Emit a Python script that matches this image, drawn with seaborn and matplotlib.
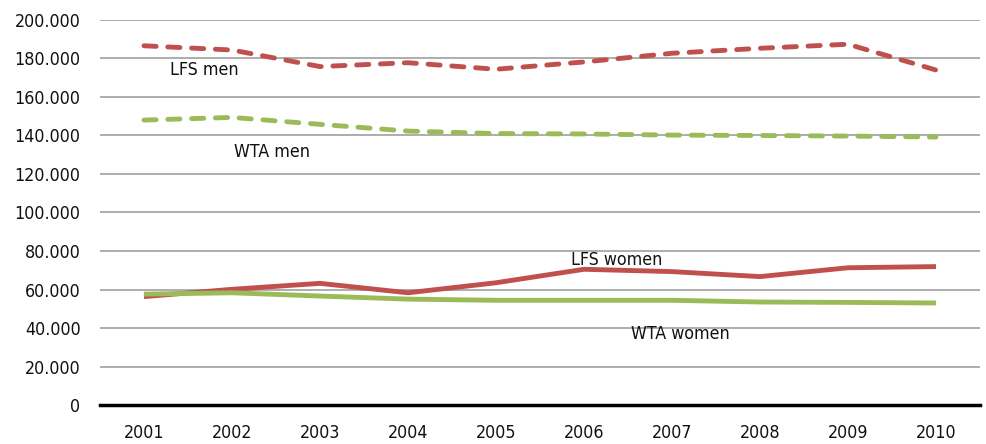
import numpy as np
import pandas as pd
import matplotlib.pyplot as plt
import seaborn as sns

# data
years = ["2001", "2002", "2003", "2004", "2005", "2006", "2007", "2008", "2009", "2010"]
lfs_men = [186600, 184400, 175800, 177800, 174400, 178200, 182700, 185300, 187400, 174000]
wta_men = [148000, 149400, 145800, 142300, 141000, 140800, 140200, 140000, 139700, 139200]
lfs_women = [56300, 60100, 63200, 58300, 63500, 70500, 69300, 66700, 71300, 71900]
wta_women = [57600, 58300, 56600, 55000, 54400, 54400, 54400, 53500, 53300, 53000]
series_names = ["LFS men", "WTA men", "LFS women", "WTA women"]
yticks = np.arange(0, 200001, 20000)

frames = []
for name, vals in zip(series_names, [lfs_men, wta_men, lfs_women, wta_women]):
    frames.append(pd.DataFrame({"year": years, "value": vals, "series": name}))
df = pd.concat(frames, ignore_index=True)

red = "#C0504D"
green = "#9BBB59"
palette = {"LFS men": red, "WTA men": green, "LFS women": red, "WTA women": green}
dashes = {"LFS men": (2.5, 2.4), "WTA men": (2.5, 2.4), "LFS women": "", "WTA women": ""}

sns.set_style("white")
plt.rcParams['font.family'] = ['DejaVu Sans']
plt.rcParams['font.stretch'] = 'condensed'
plt.rcParams['text.color'] = '#111111'
plt.rcParams['xtick.color'] = '#111111'
plt.rcParams['ytick.color'] = '#111111'

fig = plt.figure(figsize=(9.86, 4.44), dpi=100)
ax = fig.add_axes([0.1014, 0.0878, 0.8925, 0.8672])

sns.lineplot(data=df, x="year", y="value", hue="series", style="series",
             palette=palette, dashes=dashes, linewidth=3.5, legend=False,
             sort=False, ax=ax)
for line in ax.get_lines():
    line.set_dash_capstyle("round")
    line.set_solid_capstyle("butt")

ax.set_ylim(0, 200000)
ax.set_xlim(-0.5, 9.5)
ax.set_yticks(yticks)
ax.set_yticklabels(["0"] + ["{:,}".format(v).replace(",", ".") for v in yticks[1:]])
ax.grid(axis="y", color="#A0A0A0", linewidth=1.2)
ax.set_axisbelow(True)
for s in ["top", "right", "left"]:
    ax.spines[s].set_visible(False)
ax.spines["bottom"].set_color("black")
ax.spines["bottom"].set_linewidth(2.5)
ax.tick_params(axis="y", length=0, pad=14, labelsize=12.8)
ax.tick_params(axis="x", length=0, pad=14, labelsize=12.8)
ax.set_xlabel("")
ax.set_ylabel("")

fs = 12.8
ax.text(0.69, 174000, "LFS men", fontsize=fs, ha="center", va="center")
ax.text(1.45, 131600, "WTA men", fontsize=fs, ha="center", va="center")
ax.text(5.37, 75300, "LFS women", fontsize=fs, ha="center", va="center")
ax.text(6.10, 36700, "WTA women", fontsize=fs, ha="center", va="center")

plt.savefig("out.png", dpi=100)
